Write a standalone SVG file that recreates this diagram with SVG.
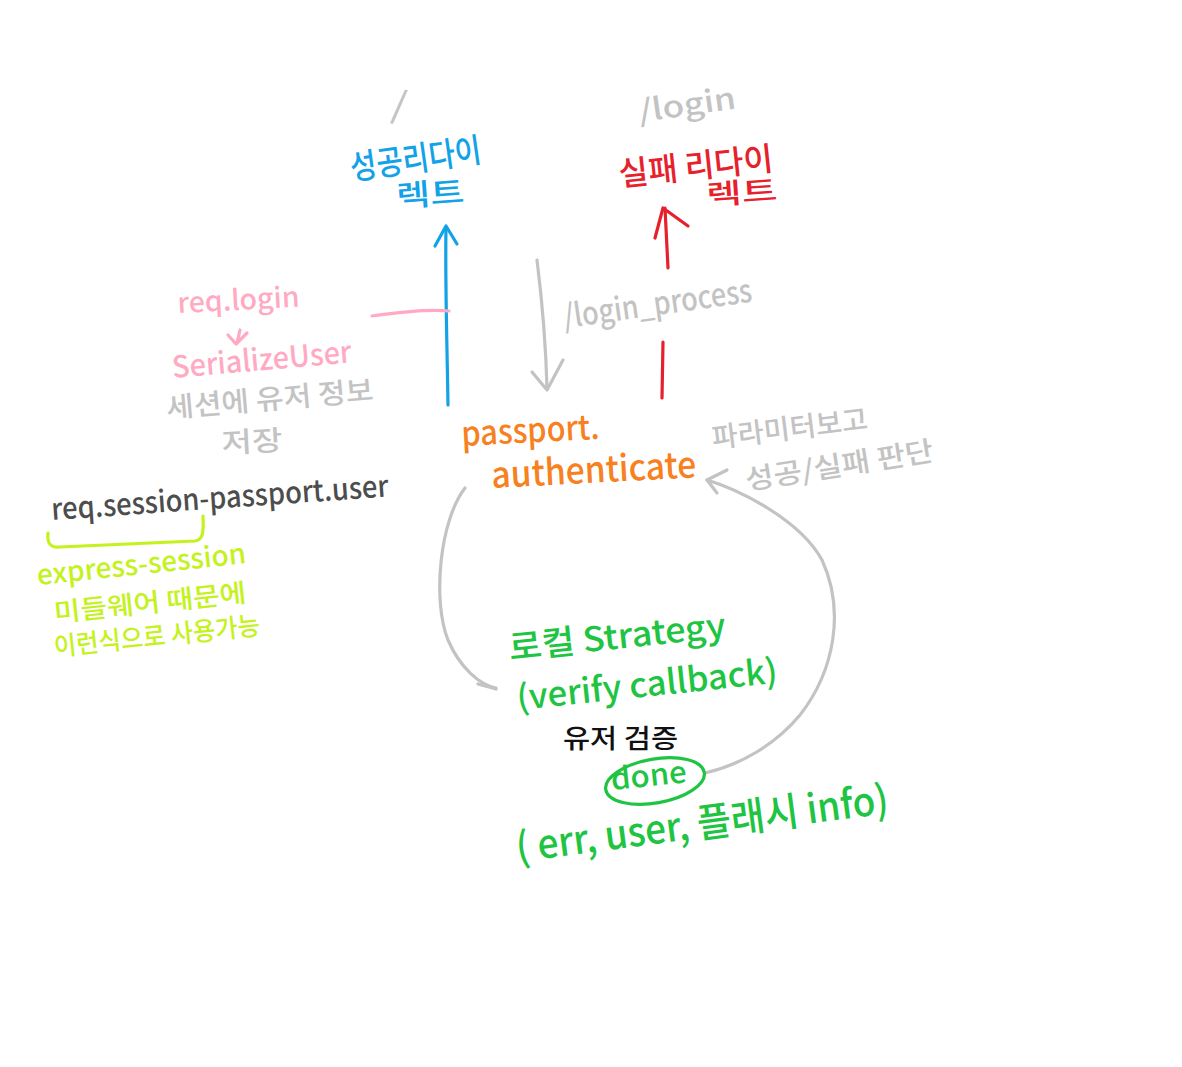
<svg xmlns="http://www.w3.org/2000/svg" width="1182" height="1067" viewBox="0 0 1182 1067">
<style>
text{font-family:"Noto Sans CJK KR","Noto Sans",sans-serif;font-weight:500;}
.blue{fill:#11a2e8}.red{fill:#e6212b}.gray{fill:#c3c3c3}.pink{fill:#ffaac2}.orange{fill:#f7801f}.dark{fill:#4d4d4d}.lime{fill:#c4f21c}.green{fill:#1ec442}.black{fill:#111}
.c{fill:none;stroke-width:3.2;stroke-linecap:round;stroke-linejoin:round}
.cb{stroke:#11a2e8}.cr{stroke:#e6212b}.cg{stroke:#c3c3c3}.cp{stroke:#ffaac2}.cl{stroke:#c4f21c}.cn{stroke:#1ec442}
</style>
<rect width="1182" height="1067" fill="#fff"/>
<g id="connectors">
  <path class="c cb" d="M448,405 C447,340 445,280 446,228"/>
  <polyline class="c cb" points="435,246 446,226 457,244"/>
  <path class="c cr" d="M668,268 C667,245 666,225 665,208"/>
  <polyline class="c cr" points="655,238 663,208 688,226"/>
  <path class="c cr" d="M663,342 L662,398"/>
  <path class="c cg" d="M537,260 C542,300 546,350 547,388"/>
  <polyline class="c cg" points="532,372 547,390 563,360"/>
  <path class="c cp" d="M372,316 C400,312 430,309 449,311"/>
  <path class="c cp" d="M240,330 L237,343"/>
  <polyline class="c cp" points="228,335 236,344 247,333"/>
  <path class="c cg" d="M465,488 C440,520 432,600 448,640 C460,668 480,685 496,688"/>
  <path class="c cg" d="M478,684 L496,689"/>
  <path class="c cg" d="M707,480 C740,490 800,520 822,560 C845,610 835,670 800,715 C775,745 740,765 705,773"/>
  <polyline class="c cg" points="727,470 707,480 717,493"/>
  <path class="c cl" d="M48,533 C47,543 50,548 60,547 L195,541 C202,540 204,535 203,516"/>
</g>
<g id="root-route">
  <text class="gray" x="393" y="118" font-size="36" transform="rotate(8 400 100)">/</text>
</g>
<g id="success-redirect">
  <text class="blue" x="352" y="180" font-size="34" textLength="132" lengthAdjust="spacingAndGlyphs" transform="rotate(-8 352 180)">성공리다이</text>
  <text class="blue" x="397" y="207" font-size="30" textLength="68" lengthAdjust="spacingAndGlyphs" transform="rotate(-4 397 207)">렉트</text>
</g>
<g id="login-route">
  <text class="gray" x="640" y="122" font-size="30" textLength="98" lengthAdjust="spacingAndGlyphs" transform="rotate(-8 640 122)">/login</text>
</g>
<g id="fail-redirect">
  <text class="red" x="620" y="186" font-size="33" textLength="155" lengthAdjust="spacingAndGlyphs" transform="rotate(-6 620 186)">실패 리다이</text>
  <text class="red" x="707" y="205" font-size="28" textLength="71" lengthAdjust="spacingAndGlyphs" transform="rotate(-4 707 205)">렉트</text>
</g>
<g id="login-process">
  <text class="gray" x="565" y="328" font-size="32" textLength="190" lengthAdjust="spacingAndGlyphs" transform="rotate(-8 565 328)">/login_process</text>
</g>
<g id="serialize">
  <text class="pink" x="178" y="313" font-size="28" textLength="122" lengthAdjust="spacingAndGlyphs" transform="rotate(-3 178 313)">req.login</text>
  <text class="pink" x="173" y="378" font-size="30" textLength="180" lengthAdjust="spacingAndGlyphs" transform="rotate(-5 173 378)">SerializeUser</text>
  <text class="gray" x="167" y="418" font-size="28" textLength="208" lengthAdjust="spacingAndGlyphs" transform="rotate(-5 167 418)">세션에 유저 정보</text>
  <text class="gray" x="222" y="453" font-size="28" textLength="61" lengthAdjust="spacingAndGlyphs" transform="rotate(-3 222 453)">저장</text>
</g>
<g id="passport-authenticate">
  <text class="orange" x="462" y="446" font-size="34" textLength="138" lengthAdjust="spacingAndGlyphs" transform="rotate(-3 462 446)">passport.</text>
  <text class="orange" x="492" y="488" font-size="36" textLength="205" lengthAdjust="spacingAndGlyphs" transform="rotate(-3 492 488)">authenticate</text>
</g>
<g id="param-note">
  <text class="gray" x="713" y="448" font-size="28" textLength="157" lengthAdjust="spacingAndGlyphs" transform="rotate(-7 713 448)">파라미터보고</text>
  <text class="gray" x="747" y="490" font-size="28" textLength="190" lengthAdjust="spacingAndGlyphs" transform="rotate(-9 747 490)">성공/실패 판단</text>
</g>
<g id="session-user">
  <text class="dark" x="52" y="520" font-size="30" textLength="338" lengthAdjust="spacingAndGlyphs" transform="rotate(-4 52 520)">req.session-passport.user</text>
</g>
<g id="express-session-note">
  <text class="lime" x="38" y="585" font-size="28" textLength="210" lengthAdjust="spacingAndGlyphs" transform="rotate(-6 38 585)">express-session</text>
  <text class="lime" x="55" y="622" font-size="26" textLength="193" lengthAdjust="spacingAndGlyphs" transform="rotate(-6 55 622)">미들웨어 때문에</text>
  <text class="lime" x="55" y="656" font-size="26" textLength="207" lengthAdjust="spacingAndGlyphs" transform="rotate(-6 55 656)">이런식으로 사용가능</text>
</g>
<g id="local-strategy">
  <text class="green" x="510" y="660" font-size="34" textLength="218" lengthAdjust="spacingAndGlyphs" transform="rotate(-6 510 660)">로컬 Strategy</text>
  <text class="green" x="518" y="710" font-size="34" textLength="262" lengthAdjust="spacingAndGlyphs" transform="rotate(-6 518 710)">(verify callback)</text>
  <text class="black" x="563" y="748" font-size="26" textLength="115" lengthAdjust="spacingAndGlyphs">유저 검증</text>
</g>
<g id="done">
  <ellipse class="c cn" cx="655" cy="781" rx="50" ry="22" transform="rotate(-10 655 781)"/>
  <text class="green" x="612" y="790" font-size="30" textLength="76" lengthAdjust="spacingAndGlyphs" transform="rotate(-6 612 790)">done</text>
</g>
<g id="done-args">
  <text class="green" x="518" y="862" font-size="40" textLength="375" lengthAdjust="spacingAndGlyphs" transform="rotate(-7.5 518 862)">( err, user, 플래시 info)</text>
</g>
</svg>
